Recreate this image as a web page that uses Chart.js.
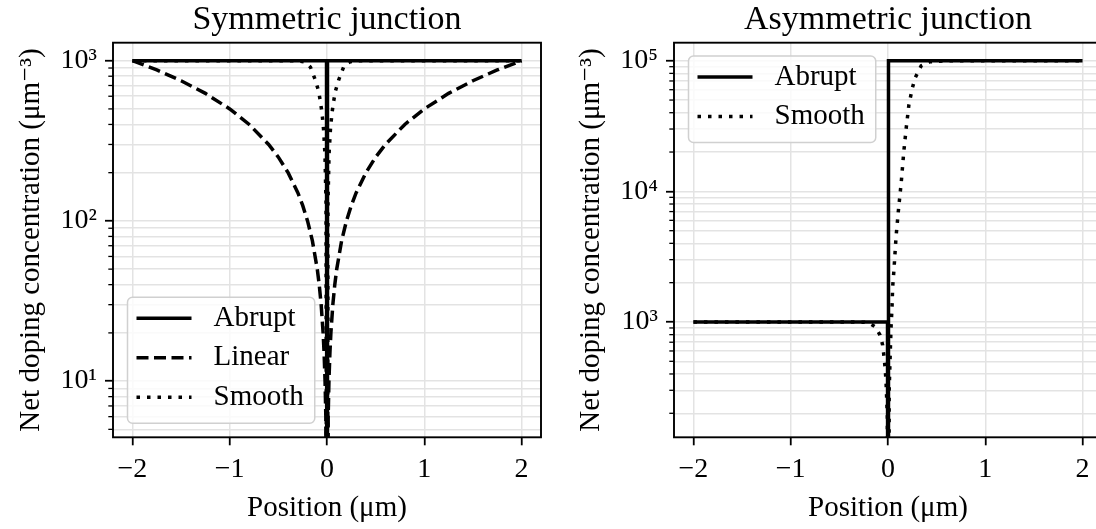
<!DOCTYPE html>
<html><head><meta charset="utf-8">
<script src="https://cdn.jsdelivr.net/npm/chart.js@4.4.1/dist/chart.umd.min.js"></script>
<style>
html,body{margin:0;padding:0;background:#fff;overflow:hidden;width:1096px;height:529px;}
#wrap{position:relative;width:1096px;height:529px;overflow:hidden;background:#fff;}
.box{position:absolute;top:0;}
</style></head><body>
<div id="wrap">
<div class="box" style="left:0;width:550px;height:529px"><canvas id="c1" width="550" height="529"></canvas></div>
<div class="box" style="left:550px;width:560px;height:529px"><canvas id="c2" width="560" height="529"></canvas></div>
</div>
<script>
// ---------- data ----------
const xTickValues = [-2, -1, 0, 1, 2];
const xTickLabels = ['\u22122', '\u22121', '0', '1', '2'];

// Symmetric junction
const symAbruptX = [-2, -0.005, 0, 0.005, 2];
const symAbruptN = [1000, 1000, 0.001, 1000, 1000];
const symLinearX = [-2, -1.75, -1.5, -1.25, -1, -0.8, -0.6, -0.5, -0.4, -0.3, -0.25, -0.2, -0.15, -0.1, -0.08, -0.06, -0.04, -0.03, -0.02, -0.012, 0,
                    0.012, 0.02, 0.03, 0.04, 0.06, 0.08, 0.1, 0.15, 0.2, 0.25, 0.3, 0.4, 0.5, 0.6, 0.8, 1, 1.25, 1.5, 1.75, 2];
const symLinearN = [1000, 875, 750, 625, 500, 400, 300, 250, 200, 150, 125, 100, 75, 50, 40, 30, 20, 15, 10, 6, 0.001,
                    6, 10, 15, 20, 30, 40, 50, 75, 100, 125, 150, 200, 250, 300, 400, 500, 625, 750, 875, 1000];
const symSmoothX = [-2, -0.5, -0.3, -0.24, -0.21, -0.17, -0.12, -0.085, -0.068, -0.051, -0.035, -0.021, -0.01, 0,
                    0.01, 0.021, 0.035, 0.051, 0.068, 0.085, 0.12, 0.17, 0.21, 0.24, 0.3, 0.5, 2];
const symSmoothN = [1000, 1000, 997, 985, 964, 910, 758, 641, 555, 470, 370, 260, 130, 0.001,
                    130, 260, 370, 470, 555, 641, 758, 910, 964, 985, 997, 1000, 1000];
const symYTicks = [5, 6, 7, 8, 9, 10, 20, 30, 40, 50, 60, 70, 80, 90, 100, 200, 300, 400, 500, 600, 700, 800, 900, 1000];
const symYMajor = [10, 100, 1000];
const symYMajorLabels = ['10\u00b9', '10\u00b2', '10\u00b3'];
const symYRange = [4.46, 1295];

// Asymmetric junction
const asymAbruptX = [-2, -0.005, 0, 0.005, 2];
const asymAbruptN = [1000, 1000, 0.01, 100000, 100000];
const asymSmoothX = [-2, -0.4, -0.24, -0.18, -0.134, -0.082, -0.055, -0.041, -0.031, -0.021, -0.013, -0.007, 0.002,
                     0.012, 0.024, 0.031, 0.041, 0.048, 0.061, 0.083, 0.108, 0.136, 0.162, 0.187, 0.215, 0.251, 0.28, 0.341, 0.431, 0.6, 2];
const asymSmoothN = [1000, 1000, 995, 970, 920, 795, 667, 543, 455, 360, 253, 188, 0.01,
                     300, 610, 900, 1280, 1860, 2490, 4520, 7280, 11700, 20000, 30400, 46100, 62100, 74200, 91400, 98200, 99900, 100000];
const asymYTicks = [200, 300, 400, 500, 600, 700, 800, 900, 1000, 2000, 3000, 4000, 5000, 6000, 7000, 8000, 9000, 10000,
                    20000, 30000, 40000, 50000, 60000, 70000, 80000, 90000, 100000];
const asymYMajor = [1000, 10000, 100000];
const asymYMajorLabels = ['10\u00b3', '10\u2074', '10\u2075'];
const asymYRange = [131, 137400];

// ---------- styling ----------
const FONT = "'Liberation Serif', 'DejaVu Serif', serif";
const GRID = '#e3e3e3';
const LW = 3.5;
const LABEL_SIZE = 29;
const TICK_SIZE = 28;
const TITLE_SIZE = 34;
const STYLES = {
  Abrupt: [],
  Linear: [12, 5.5],
  Smooth: [3.5, 7]
};

function series(label, xs, ys) {
  return {
    label: label,
    data: xs.map((x, i) => ({x: x, y: ys[i]})),
    borderColor: '#000',
    backgroundColor: '#000',
    borderWidth: LW,
    borderDash: STYLES[label],
    pointRadius: 0,
    tension: 0,
    fill: false
  };
}

const framePlugin = {
  id: 'frame',
  afterDraw(chart, args, opts) {
    const ctx = chart.ctx;
    const a = chart.chartArea;
    const y = chart.scales.y;
    ctx.save();
    // minor tick marks
    ctx.strokeStyle = '#000';
    ctx.lineWidth = 1.3;
    y.ticks.forEach(t => {
      if (!t.major) {
        const py = y.getPixelForValue(t.value);
        ctx.beginPath();
        ctx.moveTo(a.left - 4.7, py);
        ctx.lineTo(a.left, py);
        ctx.stroke();
      }
    });
    // frame
    ctx.lineWidth = 1.9;
    ctx.strokeRect(a.left, a.top, a.right - a.left, a.bottom - a.top);
    // legend
    const ds = chart.data.datasets;
    const n = ds.length;
    ctx.font = LABEL_SIZE + 'px ' + FONT;
    let maxW = 0;
    ds.forEach(d => { maxW = Math.max(maxW, ctx.measureText(d.label).width); });
    const w = 86 + maxW + 11;
    const h = 21 + 39.5 * (n - 1) + 26;
    const bx = a.left + 14.5;
    const by = opts.corner === 'lower' ? a.bottom - 14 - h : a.top + 13.3;
    ctx.beginPath();
    ctx.roundRect(bx, by, w, h, 5);
    ctx.fillStyle = 'rgba(255,255,255,0.8)';
    ctx.fill();
    ctx.strokeStyle = '#d0d0d0';
    ctx.lineWidth = 1.5;
    ctx.stroke();
    ds.forEach((d, i) => {
      const cy = by + 21 + 39.5 * i;
      ctx.beginPath();
      ctx.setLineDash(d.borderDash || []);
      ctx.strokeStyle = '#000';
      ctx.lineWidth = LW;
      ctx.moveTo(bx + 9, cy);
      ctx.lineTo(bx + 64, cy);
      ctx.stroke();
      ctx.setLineDash([]);
      ctx.fillStyle = '#000';
      ctx.textAlign = 'left';
      ctx.textBaseline = 'middle';
      ctx.fillText(d.label, bx + 86, cy);
    });
    ctx.restore();
  }
};

function makeChart(id, cfg) {
  return new Chart(document.getElementById(id), {
    type: 'line',
    data: {datasets: cfg.datasets},
    options: {
      responsive: false,
      animation: false,
      events: [],
      layout: {padding: {left: 0, right: cfg.padRight, top: 0, bottom: 0}},
      plugins: {
        legend: {display: false},
        tooltip: {enabled: false},
        title: {
          display: true, text: cfg.title, fullSize: false, color: '#000',
          font: {family: FONT, size: TITLE_SIZE, weight: 'normal'},
          padding: {top: 0, bottom: 42.7 - TITLE_SIZE * 1.2}
        },
        frame: {corner: cfg.corner}
      },
      scales: {
        x: {
          type: 'linear', min: -2.2, max: 2.2,
          afterFit: s => { s.height = 91.7; },
          afterBuildTicks: s => { s.ticks = xTickValues.map(v => ({value: v})); },
          ticks: {
            autoSkip: false, maxRotation: 0, color: '#000', padding: 8,
            font: {family: FONT, size: TICK_SIZE},
            callback: v => xTickLabels[xTickValues.indexOf(v)]
          },
          grid: {color: GRID, lineWidth: 1.5, tickLength: 8, tickColor: '#000', tickWidth: 1.8},
          border: {display: false},
          title: {display: true, text: 'Position (\u03bcm)', color: '#000',
                  font: {family: FONT, size: LABEL_SIZE}, padding: {top: 0, bottom: 21 - LABEL_SIZE * 0.6}}
        },
        y: {
          type: 'logarithmic', min: cfg.yRange[0], max: cfg.yRange[1],
          afterFit: s => { s.width = cfg.yWidth; },
          afterBuildTicks: s => { s.ticks = cfg.yTicks.map(v => ({value: v, major: cfg.yMajor.includes(v)})); },
          ticks: {
            autoSkip: false, color: '#000', padding: 8,
            font: {family: FONT, size: TICK_SIZE},
            callback: v => { const k = cfg.yMajor.indexOf(v); return k >= 0 ? cfg.yLabels[k] : ''; }
          },
          grid: {
            color: GRID, lineWidth: 1.5, tickLength: 8, tickWidth: 1.8,
            tickColor: c => (c.tick && c.tick.major) ? '#000' : 'rgba(0,0,0,0)'
          },
          border: {display: false},
          title: {display: true, text: 'Net doping concentration (\u03bcm\u207b\u00b3)', color: '#000',
                  font: {family: FONT, size: LABEL_SIZE}, padding: {top: cfg.yTitleX - LABEL_SIZE * 0.6}}
        }
      }
    },
    plugins: [framePlugin]
  });
}

makeChart('c1', {
  title: 'Symmetric junction',
  datasets: [
    series('Abrupt', symAbruptX, symAbruptN),
    series('Linear', symLinearX, symLinearN),
    series('Smooth', symSmoothX, symSmoothN)
  ],
  yRange: symYRange, yTicks: symYTicks, yMajor: symYMajor, yLabels: symYMajorLabels,
  yWidth: 113, yTitleX: 31, padRight: 9, corner: 'lower'
});
makeChart('c2', {
  title: 'Asymmetric junction',
  datasets: [
    series('Abrupt', asymAbruptX, asymAbruptN),
    series('Smooth', asymSmoothX, asymSmoothN)
  ],
  yRange: asymYRange, yTicks: asymYTicks, yMajor: asymYMajor, yLabels: asymYMajorLabels,
  yWidth: 124, yTitleX: 41, padRight: 8, corner: 'upper'
});
</script>
</body></html>
